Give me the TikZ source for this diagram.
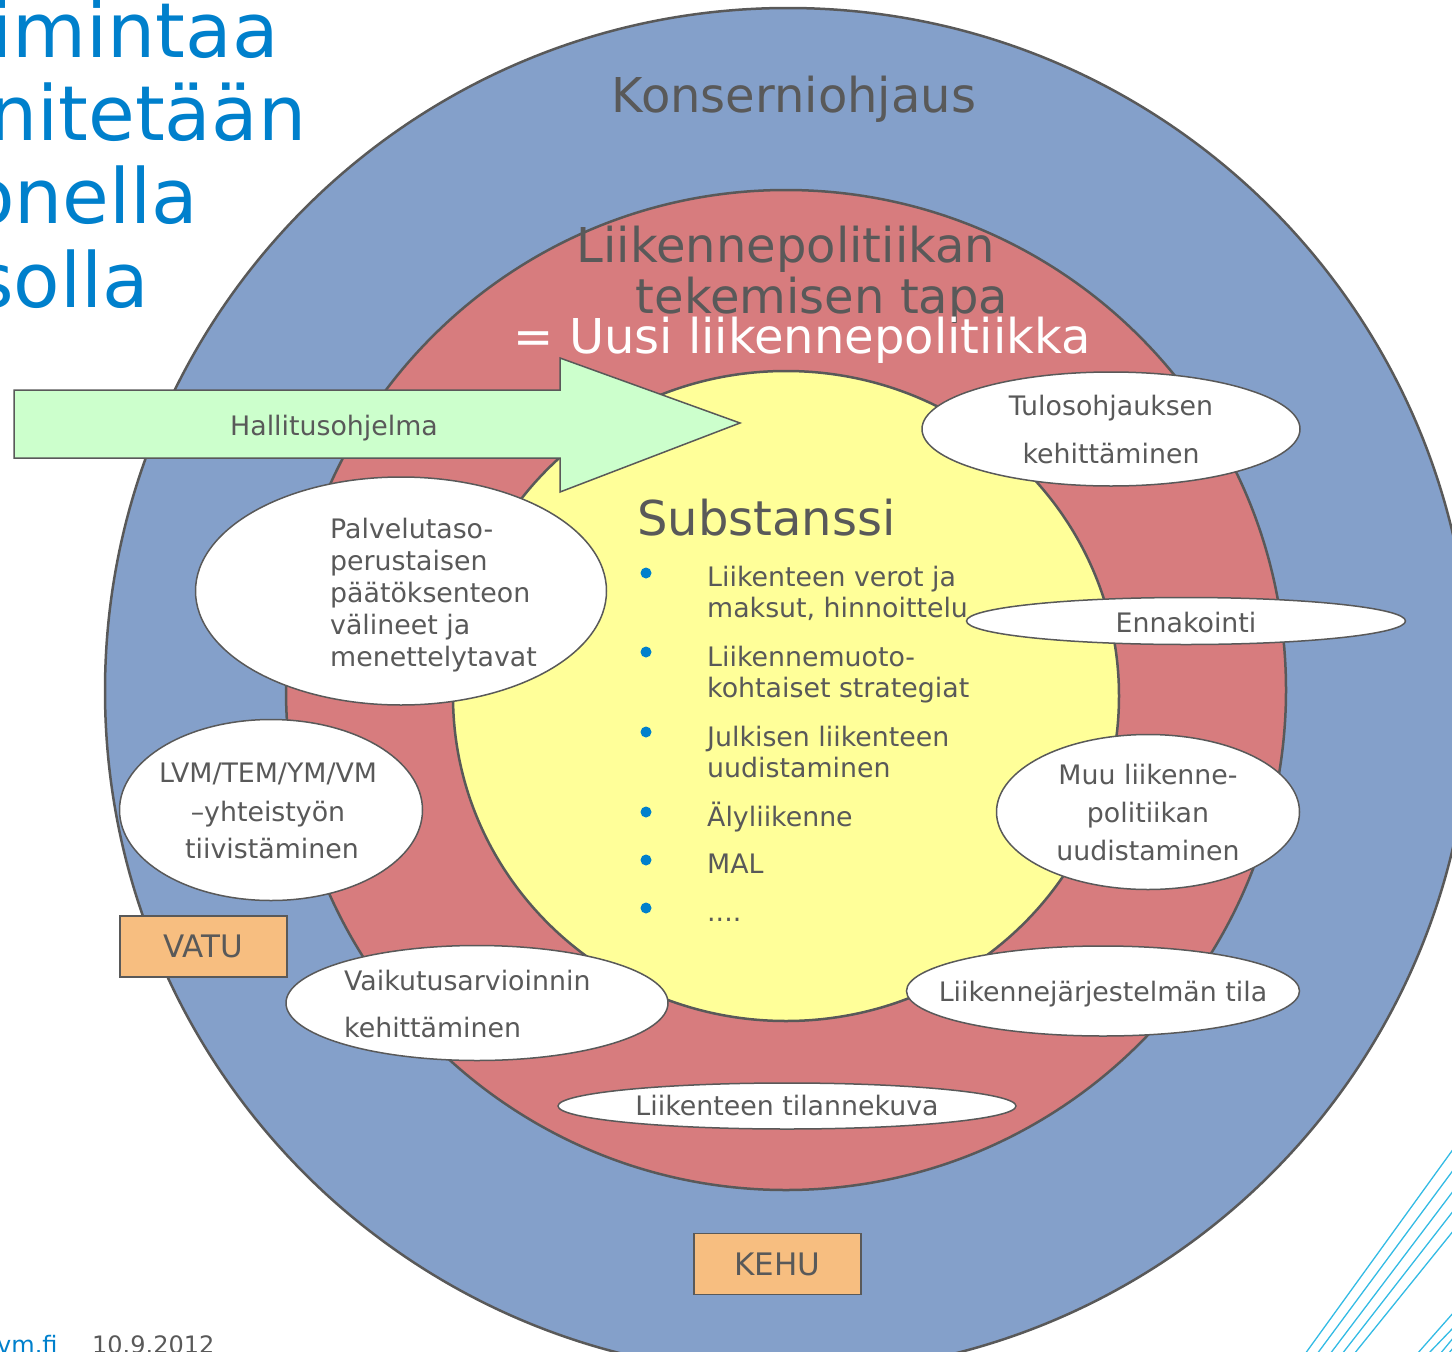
\documentclass[tikz,border=0pt]{standalone}
\usepackage{fontspec}
\setmainfont{DejaVu Sans}
\usetikzlibrary{shapes.geometric}
\definecolor{vmblue}{RGB}{0,128,204}
\definecolor{outerblue}{RGB}{132,160,202}
\definecolor{midred}{RGB}{215,124,126}
\definecolor{coreyellow}{RGB}{255,255,153}
\definecolor{textgray}{RGB}{89,89,89}
\definecolor{govgreen}{RGB}{204,255,204}
\definecolor{tagorange}{RGB}{247,190,128}
\definecolor{stripecyan}{RGB}{51,187,228}
\tikzset{
  ring/.style={draw=textgray, line width=2.5pt},
  bubble/.style={ellipse, draw=textgray, fill=white, line width=1.5pt, inner sep=0pt},
  tag/.style={draw=textgray, fill=tagorange, line width=1.5pt, minimum width=167, minimum height=61, inner sep=0pt, text=textgray, font=\fontsize{31}{31}\selectfont},
  txt/.style={anchor=base, inner sep=0pt, text=textgray, font=\fontsize{26.8}{31}\selectfont},
  big/.style={anchor=base, inner sep=0pt, text=textgray, font=\fontsize{48}{50}\selectfont},
  heading/.style={anchor=base west, inner sep=0pt, text=vmblue, font=\fontsize{76}{80}\selectfont},
}
\begin{document}
\begin{tikzpicture}[x=1pt, y=-1pt]
\useasboundingbox (0,0) rectangle (1452,1352);
\clip (0,0) rectangle (1452,1352);
% rings
\draw[ring, fill=outerblue] (788,691) circle (683);
\draw[ring, fill=midred] (786,690) circle (500);
\draw[ring, fill=coreyellow] (786,696) ellipse (333 and 325);
% slide title, cut at the left edge
\node (head1) at (-9,57)[heading]{imintaa};
\node (head2) at (-11,140)[heading]{nitetään};
\node (head3) at (-32,223)[heading]{onella};
\node (head4) at (-26,307)[heading]{solla};
\node (web) at (-3,1353)[heading, font=\fontsize{24}{24}\selectfont]{vm.fi};
\node (date) at (92,1353)[heading, text=textgray, font=\fontsize{24}{24}\selectfont]{10.9.2012};
% ring titles
\node (konserni) at (794,112)[big]{Konserniohjaus};
\node (tapa1) at (786,262)[big]{Liikennepolitiikan};
\node (tapa2) at (822,313)[big]{tekemisen tapa};
\node (uusi) at (802,353)[big, text=white]{= Uusi liikennepolitiikka};
% government arrow
\draw[fill=govgreen, draw=textgray, line width=1.5pt] (14,390) -- (560,390) -- (560,358) -- (740,423)
  -- (560,492) -- (560,458) -- (14,458) -- cycle;
\node (gov) at (334,435)[txt]{Hallitusohjelma};
% bubbles
\node (tulos) at (1111,429)[bubble, minimum width=378, minimum height=114]{};
\node (ennak) at (1186,621)[bubble, minimum width=439, minimum height=47]{};
\node (palvelu) at (401,591)[bubble, minimum width=411, minimum height=228]{};
\node (yhteis) at (271,810)[bubble, minimum width=303, minimum height=181]{};
\node (muu) at (1148,812)[bubble, minimum width=303, minimum height=155]{};
\node (vaikutus) at (477,1003)[bubble, minimum width=382, minimum height=115]{};
\node (ljtila) at (1103,991)[bubble, minimum width=393, minimum height=90]{};
\node (tilanne) at (787,1106)[bubble, minimum width=458, minimum height=46]{};
% bubble texts
\node (tulos1) at (1111,415)[txt]{Tulosohjauksen};
\node (tulos2) at (1111,463)[txt]{kehittäminen};
\node (ennak1) at (1186,632)[txt]{Ennakointi};
\foreach \t [count=\i] in {Palvelutaso-, perustaisen, päätöksenteon, välineet ja, menettelytavat}
\node (palv\i) at (330,506+32*\i)[txt, anchor=base west]{\t};
\node (yhteis1) at (268,782)[txt]{LVM/TEM/YM/VM};
\node (yhteis2) at (268,821)[txt]{–yhteistyön};
\node (yhteis3) at (272,858)[txt]{tiivistäminen};
\node (muu1) at (1148,784)[txt]{Muu liikenne-};
\node (muu2) at (1148,822)[txt]{politiikan};
\node (muu3) at (1148,860)[txt]{uudistaminen};
\node (vaik1) at (344,990)[txt, anchor=base west]{Vaikutusarvioinnin};
\node (vaik2) at (344,1037)[txt, anchor=base west]{kehittäminen};
\node (ljtila1) at (1103,1001)[txt]{Liikennejärjestelmän tila};
\node (tilanne1) at (787,1115)[txt]{Liikenteen tilannekuva};
% substance list
\node (subst) at (637,535)[big, anchor=base west]{Substanssi};
\foreach \y in {573,652,732,812,860,908}
\fill[vmblue] (646,\y) circle (5.5);
\foreach \y/\t [count=\i] in {586/Liikenteen verot ja, 617/{maksut, hinnoittelu}, 666/Liikennemuoto-,
  697/kohtaiset strategiat, 746/Julkisen liikenteen, 777/uudistaminen, 826/Älyliikenne, 873/MAL}
\node (item\i) at (707,\y)[txt, anchor=base west]{\t};
\node (item9) at (707,921)[txt, anchor=base west]{....};
% tags
\node (vatu) at (203.5,946.5)[tag]{VATU};
\node (kehu) at (777.5,1264)[tag]{KEHU};
% corner stripes
\foreach \b/\r in {1305/1148,1317/1169,1330/1190,1342/1210,1354/1230,1417/1312,1428/1327,1440/1337,1448/1347}
\draw[stripecyan, line width=1.3pt] (\b,1354) -- (1454,\r);
\end{tikzpicture}
\end{document}
